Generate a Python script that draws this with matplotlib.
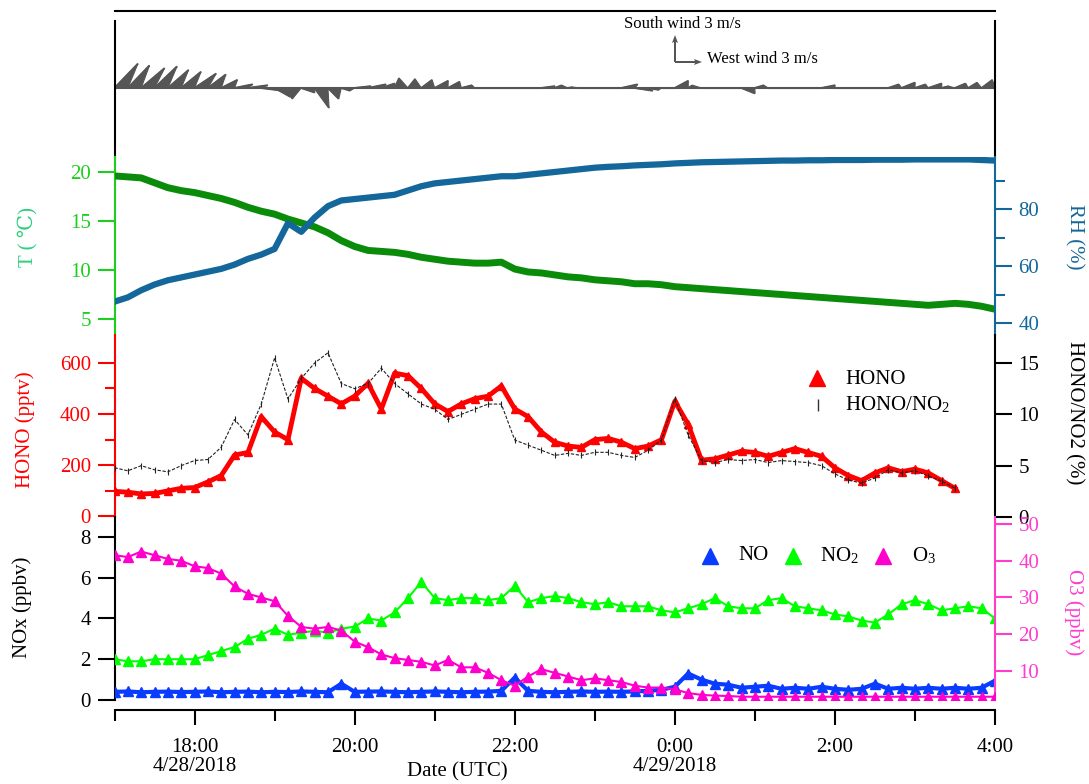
import numpy as np
import matplotlib
matplotlib.use("Agg")
import matplotlib.pyplot as plt
from matplotlib.ticker import FixedLocator, NullFormatter
from matplotlib.collections import PolyCollection

plt.rcParams['font.family'] = ['Liberation Serif', 'DejaVu Serif']
plt.rcParams['mathtext.fontset'] = 'stix'
FS = 15

# ---------------- data (10-minute samples from 17:00 UTC 28 Apr) ----------------
wind_u = [2.6, 2.4, 2.6, 2.5, 2.3, 2.2, 2.4, 2.0, 1.8, 2.0,
          2.2, 2.4, 1.8, 0.5, 1.5, 1.6, 1.2, 1.0, 1.8, 2.0,
          1.5, 0.5, 0.8, 1.2, 1.5, 1.3, 1.2, 0.0, 0.0, 0.0,
          0.0, 0.0, 1.5, 0.8, 0.5, 0.0, 0.0, 0.0, 1.8, 2.0,
          1.2, 0.0, 1.5, 0.5, 0.0, 0.0, 0.0, 1.5, 1.0, 0.0,
          0.0, 0.0, 0.0, 1.5, 0.0, 0.0, 0.0, 0.0, 1.2, 1.5,
          1.2, 1.5, 0.8, 1.2, 1.0, 1.2, 0.4]
wind_v = [2.7, 2.5, 2.2, 2.4, 2.0, 1.8, 1.6, 1.5, 0.9, 0.4,
          0.3, -0.3, -1.0, -1.2, -0.5, -2.2, -1.2, -0.3, 0.2, 0.4,
          0.5, 1.1, 1.0, 0.9, 0.8, 0.7, 0.3, 0.0, 0.0, 0.0,
          0.0, 0.0, 0.2, 0.3, 0.1, 0.0, 0.0, 0.0, 0.4, -0.3,
          -0.2, 0.0, 0.8, 0.3, 0.0, 0.0, 0.0, -0.6, 0.3, 0.0,
          0.0, 0.0, 0.0, 0.3, 0.0, 0.0, 0.0, 0.0, 0.4, 0.6,
          0.4, 0.5, 0.2, 0.5, 0.6, 0.9, 0.3]

temp_c = [19.6, 19.5, 19.4, 18.9, 18.4, 18.1, 17.9, 17.6, 17.3, 16.9,
          16.4, 16.0, 15.7, 15.2, 14.8, 14.4, 13.8, 13.0, 12.4, 12.0,
          11.9, 11.8, 11.6, 11.3, 11.1, 10.9, 10.8, 10.7, 10.7, 10.8,
          10.1, 9.8, 9.7, 9.5, 9.3, 9.2, 9.0, 8.9, 8.8, 8.6,
          8.6, 8.5, 8.3, 8.2, 8.1, 8.0, 7.9, 7.8, 7.7, 7.6,
          7.5, 7.4, 7.3, 7.2, 7.1, 7.0, 6.9, 6.8, 6.7, 6.6,
          6.5, 6.4, 6.5, 6.6, 6.5, 6.3, 6.0]
rh_pct = [47.5, 49.0, 51.5, 53.5, 55.0, 56.0, 57.0, 58.0, 59.0, 60.5,
          62.5, 64.0, 66.0, 75.0, 72.0, 77.0, 81.0, 83.0, 83.5, 84.0,
          84.5, 85.0, 86.5, 88.0, 89.0, 89.5, 90.0, 90.5, 91.0, 91.5,
          91.5, 92.0, 92.5, 93.0, 93.5, 94.0, 94.5, 94.8, 95.0, 95.3,
          95.5, 95.7, 96.0, 96.2, 96.4, 96.5, 96.6, 96.7, 96.8, 96.9,
          97.0, 97.0, 97.1, 97.1, 97.2, 97.2, 97.2, 97.3, 97.3, 97.3,
          97.4, 97.4, 97.4, 97.4, 97.4, 97.2, 97.0]

hono_pptv = [98, 95, 88, 90, 100, 110, 113, 135, 160, 240,
             250, 390, 330, 300, 540, 500, 470, 440, 470, 520,
             420, 560, 550, 500, 440, 410, 440, 460, 470, 510,
             420, 390, 330, 290, 275, 270, 300, 305, 290, 265,
             275, 300, 450, 360, 220, 225, 240, 255, 250, 235,
             250, 265, 250, 235, 190, 160, 140, 170, 190, 175,
             185, 170, 140, 110]
hono_no2_ratio = [4.8, 4.5, 5.0, 4.6, 4.4, 5.0, 5.5, 5.6, 6.8, 9.5,
                  8.0, 11.0, 15.5, 11.5, 13.5, 15.0, 16.0, 13.0, 12.5, 13.0,
                  14.5, 13.0, 12.0, 11.0, 10.5, 9.5, 10.0, 10.5, 11.0, 11.0,
                  7.5, 7.0, 6.5, 6.0, 6.2, 6.0, 6.3, 6.3, 6.0, 5.8,
                  6.5, 7.5, 11.5, 8.0, 5.5, 5.3, 5.6, 5.5, 5.6, 5.3,
                  5.5, 5.4, 5.3, 5.0, 4.2, 3.6, 3.3, 3.8, 4.6, 4.3,
                  4.5, 4.0, 3.5, 2.8]

no_ppbv = [0.40, 0.42, 0.38, 0.40, 0.41, 0.39, 0.40, 0.42, 0.38, 0.40,
           0.41, 0.38, 0.40, 0.39, 0.42, 0.40, 0.38, 0.80, 0.40, 0.41,
           0.42, 0.40, 0.38, 0.40, 0.42, 0.40, 0.38, 0.40, 0.41, 0.45,
           1.10, 0.45, 0.40, 0.38, 0.40, 0.42, 0.40, 0.41, 0.40, 0.42,
           0.45, 0.50, 0.65, 1.30, 1.00, 0.80, 0.75, 0.60, 0.65, 0.70,
           0.55, 0.60, 0.55, 0.65, 0.55, 0.50, 0.55, 0.80, 0.55, 0.60,
           0.55, 0.60, 0.55, 0.60, 0.55, 0.60, 0.95]
no2_ppbv = [2.0, 1.9, 1.9, 2.0, 2.0, 2.0, 2.0, 2.2, 2.4, 2.6,
            3.0, 3.2, 3.5, 3.2, 3.3, 3.4, 3.3, 3.5, 3.6, 4.0,
            3.9, 4.3, 5.0, 5.8, 5.0, 4.9, 5.0, 5.0, 4.9, 5.0,
            5.6, 4.8, 5.0, 5.1, 5.0, 4.8, 4.7, 4.8, 4.6, 4.6,
            4.6, 4.4, 4.3, 4.5, 4.7, 5.0, 4.6, 4.5, 4.5, 4.9,
            5.0, 4.6, 4.5, 4.4, 4.2, 4.1, 3.9, 3.8, 4.2, 4.7,
            4.9, 4.7, 4.4, 4.5, 4.6, 4.5, 4.0]
o3_ppbv = [41.5, 41.0, 42.5, 41.5, 40.5, 40.0, 38.5, 38.0, 36.5, 33.0,
           31.0, 30.0, 29.0, 25.0, 22.0, 21.5, 22.0, 21.0, 18.0, 16.5,
           14.5, 13.5, 13.0, 12.5, 11.5, 13.0, 11.0, 11.0, 9.5, 7.5,
           6.0, 8.5, 10.5, 9.5, 8.5, 7.5, 8.0, 7.5, 7.0, 6.0,
           5.5, 5.5, 5.0, 4.0, 3.5, 3.3, 3.2, 3.0, 3.0, 3.0,
           3.0, 3.0, 3.0, 3.0, 3.0, 3.0, 3.0, 3.0, 3.0, 3.0,
           3.0, 3.0, 3.0, 3.0, 3.0, 3.0, 3.0]

tick_hours = [1, 3, 5, 7, 9, 11]
tick_labels = ["18:00\n4/28/2018", "20:00", "22:00", "0:00\n4/29/2018", "2:00", "4:00"]

# hours after 17:00 UTC
t_full = np.arange(len(temp_c)) * 10 / 60.0
t_hono = np.arange(len(hono_pptv)) * 10 / 60.0

# ---------------- colours ----------------
C_T_AX, C_T_LAB, C_T = "#1ccf1c", "#2fd080", "#0a8c0a"
C_RH = "#13679a"
C_HONO = "#ff0000"
C_NO, C_NO2, C_O3, C_O3_AX = "#0a3cff", "#00ff00", "#ff00cc", "#ff3ccc"
C_WIND = "#555555"

W, H = 1089, 784
DPI = 100
fig = plt.figure(figsize=(W / DPI, H / DPI), dpi=DPI)

AX_L, AX_R = 114.5, 995


def box(top, bottom, left=AX_L, right=AX_R):
    return [left / W, 1 - bottom / H, (right - left) / W, (bottom - top) / H]


ax_w = fig.add_axes(box(21, 157))
ax_t = fig.add_axes(box(157, 335))
ax_h = fig.add_axes(box(335, 517))
ax_n = fig.add_axes(box(517, 700))
ax_rh = ax_t.twinx()
ax_r = ax_h.twinx()
ax_o = ax_n.twinx()

XMIN, XMAX = 0.0, 11.0
for a in (ax_w, ax_t, ax_h, ax_n, ax_rh, ax_r, ax_o):
    a.set_xlim(XMIN, XMAX)
    a.patch.set_visible(False)
    for s in a.spines.values():
        s.set_visible(False)
        s.set_linewidth(1.5)
    a.tick_params(axis='x', which='both', bottom=False, top=False,
                  labelbottom=False, labeltop=False)
    a.tick_params(axis='y', which='major', length=12, width=1.5,
                  labelsize=FS, pad=5)
    a.tick_params(axis='y', which='minor', length=7, width=1.5)


def left_axis(a, color, ticks, minor=None):
    a.spines['left'].set_visible(True)
    a.spines['left'].set_color(color)
    a.yaxis.set_major_locator(FixedLocator(ticks))
    a.yaxis.set_minor_locator(FixedLocator(minor or []))
    a.tick_params(axis='y', which='both', colors=color, right=False)


def right_axis(a, color, ticks, minor=None):
    a.spines['right'].set_visible(True)
    a.spines['right'].set_color(color)
    a.yaxis.set_major_locator(FixedLocator(ticks))
    a.yaxis.set_minor_locator(FixedLocator(minor or []))
    a.tick_params(axis='y', which='both', colors=color, left=False,
                  labelleft=False, right=True, labelright=True)


# ---------------- wind stick panel ----------------
# y units of this panel are pixels above the zero line
ax_w.set_ylim(-69, 67)
for s in ('left', 'right', 'top'):
    ax_w.spines[s].set_visible(True)
    ax_w.spines[s].set_color('black')
ax_w.spines['top'].set_position(('outward', 7.2))
ax_w.set_yticks([])
ax_w.axhline(0, color=C_WIND, lw=1.5, zorder=1)

PX_PER_MS = 9.0                       # 3 m/s drawn as 27 px
SCALE = DPI / PX_PER_MS               # m/s per inch for quiver
px_per_hour = (AX_R - AX_L) / (XMAX - XMIN)
u_arr = np.asarray(wind_u)
v_arr = np.asarray(wind_v)
tip_x = t_full + u_arr * PX_PER_MS / px_per_hour
tip_y = v_arr * PX_PER_MS
dt = t_full[1] - t_full[0]
tris = [[(t_full[i], 0), (tip_x[i], tip_y[i]), (t_full[i] + dt, 0)]
        for i in range(len(t_full))]
ax_w.add_collection(PolyCollection(tris, facecolors=C_WIND, edgecolors=C_WIND,
                                   linewidths=0.8, zorder=2))
ax_w.quiver(t_full, np.zeros(len(u_arr)), u_arr, v_arr, angles='uv',
            scale_units='inches', scale=SCALE, units='dots', width=2.0,
            headwidth=0, headlength=0, headaxislength=0, color=C_WIND,
            pivot='tail', zorder=2)
key_x = (675 - AX_L) / px_per_hour
ax_w.quiver([key_x, key_x], [26, 26], [3, 0], [0, 3], angles='uv',
            scale_units='inches', scale=SCALE, units='dots', width=2.0,
            headwidth=3, headlength=4, headaxislength=3.5, color=C_WIND,
            pivot='tail', zorder=3)
fig.text(682 / W, 1 - 24 / H, "South wind 3 m/s", ha='center', va='center', fontsize=12)
fig.text(707 / W, 1 - 59 / H, "West wind 3 m/s", ha='left', va='center', fontsize=12)

# ---------------- T / RH panel ----------------
ax_t.set_ylim(3.37, 21.53)
left_axis(ax_t, C_T_AX, [5, 10, 15, 20])
ax_t.plot(t_full, temp_c, color=C_T, lw=5, solid_joinstyle='round', zorder=3)
ax_rh.set_ylim(35.8, 98.25)
right_axis(ax_rh, C_RH, [40, 60, 80], [50, 70, 90])
ax_rh.plot(t_full, rh_pct, color=C_RH, lw=4.5, solid_joinstyle='round', zorder=3)

# ---------------- HONO panel ----------------
ax_h.set_ylim(-2, 709)
left_axis(ax_h, C_HONO, [0, 200, 400, 600], [100, 300, 500])
ax_h.plot(t_hono, hono_pptv, color=C_HONO, lw=3.5, marker='^', ms=6, zorder=3)
ax_r.set_ylim(0, 17.73)
right_axis(ax_r, 'black', [0, 5, 10, 15])
ax_r.plot(t_hono, hono_no2_ratio, color='#222222', lw=0.8, ls=(0, (3, 1.5)),
          marker='|', ms=5, mew=0.8, zorder=4)

# ---------------- NOx / O3 panel ----------------
ax_n.set_ylim(0, 8.98)
left_axis(ax_n, 'black', [0, 2, 4, 6, 8])
ax_n.plot(t_full, no_ppbv, color=C_NO, lw=3, marker='^', ms=7, ls='-', zorder=3)
ax_n.plot(t_full, no2_ppbv, color=C_NO2, lw=1.5, marker='^', ms=7, ls='-', zorder=3)
ax_o.set_ylim(2.11, 51.9)
right_axis(ax_o, C_O3_AX, [10, 20, 30, 40, 50])
ax_o.plot(t_full, o3_ppbv, color=C_O3, lw=1.5, marker='^', ms=7, ls='-', zorder=3)

# time axis below the bottom panel
ax_n.spines['bottom'].set_visible(True)
ax_n.spines['bottom'].set_position(('outward', 7.2))
ax_n.spines['bottom'].set_color('black')
ax_n.xaxis.set_major_locator(FixedLocator(tick_hours))
ax_n.xaxis.set_minor_locator(FixedLocator([0, 2, 4, 6, 8, 10]))
ax_n.set_xticklabels(tick_labels)
ax_n.xaxis.set_minor_formatter(NullFormatter())
ax_n.tick_params(axis='x', which='major', bottom=True, labelbottom=True,
                 length=11, width=1.5, labelsize=FS, pad=9, colors='black')
ax_n.tick_params(axis='x', which='minor', bottom=True, length=8, width=1.5)
for lab in ax_n.get_xticklabels():
    lab.set_linespacing(1.0)

# ---------------- axis titles ----------------
fig.text(28 / W, 1 - 237 / H, "T ( ℃)", rotation=90, ha='center', va='center',
         fontsize=FS, color=C_T_LAB)
fig.text(1074 / W, 1 - 237 / H, "RH (%)", rotation=-90, ha='center', va='center',
         fontsize=FS, color=C_RH)
fig.text(25 / W, 1 - 430 / H, "HONO (pptv)", rotation=90, ha='center', va='center',
         fontsize=FS, color=C_HONO)
fig.text(1074 / W, 1 - 413 / H, "HONO/NO2 (%)", rotation=-90, ha='center', va='center',
         fontsize=FS, color='black')
fig.text(22 / W, 1 - 607 / H, "NOx (ppbv)", rotation=90, ha='center', va='center',
         fontsize=FS, color='black')
fig.text(1074 / W, 1 - 612 / H, "O3 (ppbv)", rotation=-90, ha='center', va='center',
         fontsize=FS, color=C_O3_AX)
fig.text(457 / W, 1 - 772 / H, "Date (UTC)", ha='center', va='center', fontsize=FS)

# ---------------- legends ----------------
ov = fig.add_axes([0, 0, 1, 1], zorder=10)
ov.set_xlim(0, W)
ov.set_ylim(H, 0)
ov.axis('off')
ov.plot([817], [378], marker='^', ms=12, color=C_HONO, ls='none')
ov.text(845, 379, "HONO", fontsize=FS, va='center')
ov.plot([818], [405], marker='|', ms=9, mew=1, color='#333333', ls='none')
ov.text(845, 405, r"HONO/NO$_{\mathregular{2}}$", fontsize=FS, va='center')
for xm, xt, col, lab in [(710, 738, C_NO, "NO"),
                         (793, 820, C_NO2, r"NO$_{\mathregular{2}}$"),
                         (883, 912, C_O3, r"O$_{\mathregular{3}}$")]:
    ov.plot([xm], [556], marker='^', ms=12, color=col, ls='none')
    ov.text(xt, 556, lab, fontsize=FS, va='center')

fig.savefig("out.png", dpi=DPI)
